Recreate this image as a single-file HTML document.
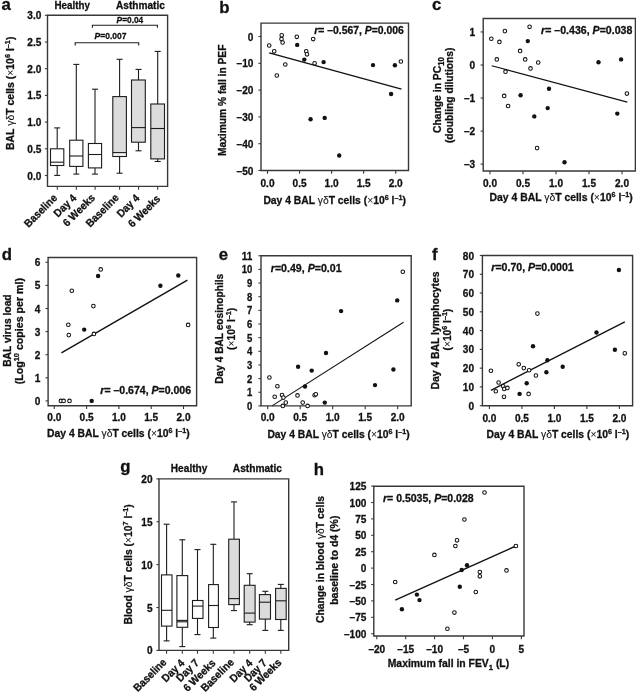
<!DOCTYPE html>
<html><head><meta charset="utf-8"><style>
html,body{margin:0;padding:0;background:#fff;}
svg{display:block;filter:grayscale(1) blur(0.3px);}
text{font-family:"Liberation Sans",sans-serif;font-weight:bold;fill:#111;stroke:#111;stroke-width:0.3px;}
</style></head><body>
<svg width="636" height="694" viewBox="0 0 636 694">
<rect width="636" height="694" fill="#fff"/>
<text x="1.60" y="10.20" font-size="16.63" text-anchor="start" textLength="9.34" lengthAdjust="spacingAndGlyphs">a</text>
<text x="54.50" y="8.60" font-size="10.91" text-anchor="start" textLength="35.50" lengthAdjust="spacingAndGlyphs">Healthy</text>
<text x="116.00" y="8.60" font-size="10.91" text-anchor="start" textLength="48.80" lengthAdjust="spacingAndGlyphs">Asthmatic</text>
<path d="M47.5,15.3H167.6V186.4H47.5Z" fill="none" stroke="#383838" stroke-width="1.4"/>
<line x1="44.90" y1="175.50" x2="47.50" y2="175.50" stroke="#383838" stroke-width="1.1"/>
<text x="41.40" y="179.50" font-size="10.91" text-anchor="end" textLength="14.04" lengthAdjust="spacingAndGlyphs">0.0</text>
<line x1="44.90" y1="148.80" x2="47.50" y2="148.80" stroke="#383838" stroke-width="1.1"/>
<text x="41.40" y="152.80" font-size="10.91" text-anchor="end" textLength="14.04" lengthAdjust="spacingAndGlyphs">0.5</text>
<line x1="44.90" y1="122.10" x2="47.50" y2="122.10" stroke="#383838" stroke-width="1.1"/>
<text x="41.40" y="126.10" font-size="10.91" text-anchor="end" textLength="14.04" lengthAdjust="spacingAndGlyphs">1.0</text>
<line x1="44.90" y1="95.40" x2="47.50" y2="95.40" stroke="#383838" stroke-width="1.1"/>
<text x="41.40" y="99.40" font-size="10.91" text-anchor="end" textLength="14.04" lengthAdjust="spacingAndGlyphs">1.5</text>
<line x1="44.90" y1="68.70" x2="47.50" y2="68.70" stroke="#383838" stroke-width="1.1"/>
<text x="41.40" y="72.70" font-size="10.91" text-anchor="end" textLength="14.04" lengthAdjust="spacingAndGlyphs">2.0</text>
<line x1="44.90" y1="42.00" x2="47.50" y2="42.00" stroke="#383838" stroke-width="1.1"/>
<text x="41.40" y="46.00" font-size="10.91" text-anchor="end" textLength="14.04" lengthAdjust="spacingAndGlyphs">2.5</text>
<line x1="44.90" y1="15.30" x2="47.50" y2="15.30" stroke="#383838" stroke-width="1.1"/>
<text x="41.40" y="19.30" font-size="10.91" text-anchor="end" textLength="14.04" lengthAdjust="spacingAndGlyphs">3.0</text>
<line x1="57.30" y1="186.40" x2="57.30" y2="189.70" stroke="#383838" stroke-width="1.1"/>
<line x1="76.30" y1="186.40" x2="76.30" y2="189.70" stroke="#383838" stroke-width="1.1"/>
<line x1="95.10" y1="186.40" x2="95.10" y2="189.70" stroke="#383838" stroke-width="1.1"/>
<line x1="119.60" y1="186.40" x2="119.60" y2="189.70" stroke="#383838" stroke-width="1.1"/>
<line x1="138.60" y1="186.40" x2="138.60" y2="189.70" stroke="#383838" stroke-width="1.1"/>
<line x1="157.70" y1="186.40" x2="157.70" y2="189.70" stroke="#383838" stroke-width="1.1"/>
<line x1="57.20" y1="127.90" x2="57.20" y2="148.80" stroke="#1c1c1c" stroke-width="1.1"/>
<line x1="57.20" y1="165.50" x2="57.20" y2="175.40" stroke="#1c1c1c" stroke-width="1.1"/>
<line x1="54.20" y1="127.90" x2="60.20" y2="127.90" stroke="#1c1c1c" stroke-width="1.1"/>
<line x1="54.20" y1="175.40" x2="60.20" y2="175.40" stroke="#1c1c1c" stroke-width="1.1"/>
<rect x="50.5" y="148.8" width="13.3" height="16.7" fill="#fff" stroke="#1c1c1c" stroke-width="1.1"/>
<line x1="50.50" y1="162.20" x2="63.80" y2="162.20" stroke="#1c1c1c" stroke-width="1.1"/>
<line x1="76.30" y1="64.40" x2="76.30" y2="140.20" stroke="#1c1c1c" stroke-width="1.1"/>
<line x1="76.30" y1="166.40" x2="76.30" y2="174.10" stroke="#1c1c1c" stroke-width="1.1"/>
<line x1="73.30" y1="64.40" x2="79.30" y2="64.40" stroke="#1c1c1c" stroke-width="1.1"/>
<line x1="73.30" y1="174.10" x2="79.30" y2="174.10" stroke="#1c1c1c" stroke-width="1.1"/>
<rect x="69.7" y="140.2" width="13.2" height="26.2" fill="#fff" stroke="#1c1c1c" stroke-width="1.1"/>
<line x1="69.70" y1="156.00" x2="82.90" y2="156.00" stroke="#1c1c1c" stroke-width="1.1"/>
<line x1="95.00" y1="89.20" x2="95.00" y2="143.50" stroke="#1c1c1c" stroke-width="1.1"/>
<line x1="95.00" y1="167.90" x2="95.00" y2="174.10" stroke="#1c1c1c" stroke-width="1.1"/>
<line x1="92.00" y1="89.20" x2="98.00" y2="89.20" stroke="#1c1c1c" stroke-width="1.1"/>
<line x1="92.00" y1="174.10" x2="98.00" y2="174.10" stroke="#1c1c1c" stroke-width="1.1"/>
<rect x="88.4" y="143.5" width="13.2" height="24.4" fill="#fff" stroke="#1c1c1c" stroke-width="1.1"/>
<line x1="88.40" y1="154.50" x2="101.60" y2="154.50" stroke="#1c1c1c" stroke-width="1.1"/>
<line x1="119.60" y1="59.30" x2="119.60" y2="96.60" stroke="#1c1c1c" stroke-width="1.1"/>
<line x1="119.60" y1="156.50" x2="119.60" y2="173.20" stroke="#1c1c1c" stroke-width="1.1"/>
<line x1="116.60" y1="59.30" x2="122.60" y2="59.30" stroke="#1c1c1c" stroke-width="1.1"/>
<line x1="116.60" y1="173.20" x2="122.60" y2="173.20" stroke="#1c1c1c" stroke-width="1.1"/>
<rect x="112.8" y="96.6" width="13.6" height="59.9" fill="#dcdcdc" stroke="#1c1c1c" stroke-width="1.1"/>
<line x1="112.80" y1="152.60" x2="126.40" y2="152.60" stroke="#1c1c1c" stroke-width="1.1"/>
<rect x="113.5" y="153.6" width="12.2" height="2.1" fill="#f4f4f4"/>
<line x1="138.50" y1="69.40" x2="138.50" y2="80.00" stroke="#1c1c1c" stroke-width="1.1"/>
<line x1="138.50" y1="142.20" x2="138.50" y2="150.80" stroke="#1c1c1c" stroke-width="1.1"/>
<line x1="135.50" y1="69.40" x2="141.50" y2="69.40" stroke="#1c1c1c" stroke-width="1.1"/>
<line x1="135.50" y1="150.80" x2="141.50" y2="150.80" stroke="#1c1c1c" stroke-width="1.1"/>
<rect x="131.5" y="80.0" width="13.8" height="62.2" fill="#dcdcdc" stroke="#1c1c1c" stroke-width="1.1"/>
<line x1="131.50" y1="127.60" x2="145.30" y2="127.60" stroke="#1c1c1c" stroke-width="1.1"/>
<line x1="157.70" y1="51.40" x2="157.70" y2="104.00" stroke="#1c1c1c" stroke-width="1.1"/>
<line x1="157.70" y1="158.90" x2="157.70" y2="161.50" stroke="#1c1c1c" stroke-width="1.1"/>
<line x1="154.70" y1="51.40" x2="160.70" y2="51.40" stroke="#1c1c1c" stroke-width="1.1"/>
<line x1="154.70" y1="161.50" x2="160.70" y2="161.50" stroke="#1c1c1c" stroke-width="1.1"/>
<rect x="150.8" y="104.0" width="13.7" height="54.9" fill="#dcdcdc" stroke="#1c1c1c" stroke-width="1.1"/>
<line x1="150.80" y1="128.50" x2="164.50" y2="128.50" stroke="#1c1c1c" stroke-width="1.1"/>
<path d="M92.4,27.8V25.3H157.4V27.8" fill="none" stroke="#1c1c1c" stroke-width="1.1"/>
<path d="M75.2,45.6V42.7H138.7V45.6" fill="none" stroke="#1c1c1c" stroke-width="1.1"/>
<text x="116.60" y="22.60" font-size="9.29" text-anchor="start" textLength="26.60" lengthAdjust="spacingAndGlyphs"><tspan font-style="italic">P</tspan>=0.04</text>
<text x="94.60" y="38.60" font-size="9.29" text-anchor="start" textLength="31.80" lengthAdjust="spacingAndGlyphs"><tspan font-style="italic">P</tspan>=0.007</text>
<text transform="translate(57.90,198.60) rotate(-45)" x="0" y="0" font-size="10.91" text-anchor="end" textLength="41.54" lengthAdjust="spacingAndGlyphs">Baseline</text>
<text transform="translate(77.10,198.66) rotate(-45)" x="0" y="0" font-size="10.91" text-anchor="end" textLength="26.95" lengthAdjust="spacingAndGlyphs">Day 4</text>
<text transform="translate(95.70,198.60) rotate(-45)" x="0" y="0" font-size="10.91" text-anchor="end" textLength="40.42" lengthAdjust="spacingAndGlyphs">6 Weeks</text>
<text transform="translate(119.50,198.39) rotate(-45)" x="0" y="0" font-size="10.91" text-anchor="end" textLength="41.54" lengthAdjust="spacingAndGlyphs">Baseline</text>
<text transform="translate(140.20,198.90) rotate(-45)" x="0" y="0" font-size="10.91" text-anchor="end" textLength="26.95" lengthAdjust="spacingAndGlyphs">Day 4</text>
<text transform="translate(161.10,199.44) rotate(-45)" x="0" y="0" font-size="10.91" text-anchor="end" textLength="40.42" lengthAdjust="spacingAndGlyphs">6 Weeks</text>
<text transform="translate(14.00,93.30) rotate(-90)" x="0" y="0" font-size="10.91" text-anchor="middle" textLength="113.40" lengthAdjust="spacingAndGlyphs">BAL <tspan font-weight="normal" stroke-width="0.1">γδ</tspan>T cells (<tspan font-weight="normal" stroke-width="0">×</tspan>10<tspan font-size="7.6" dy="-4.0">6</tspan><tspan dy="4.0"> l</tspan><tspan font-size="7.6" dy="-4.0">–1</tspan><tspan dy="4.0">)</tspan></text>
<text x="219.30" y="13.10" font-size="16.63" text-anchor="start" textLength="10.26" lengthAdjust="spacingAndGlyphs">b</text>
<path d="M261.0,23.1H408.5V170.5H261.0Z" fill="none" stroke="#383838" stroke-width="1.4"/>
<line x1="258.40" y1="36.50" x2="261.00" y2="36.50" stroke="#383838" stroke-width="1.1"/>
<text x="253.40" y="40.50" font-size="10.91" text-anchor="end" textLength="5.62" lengthAdjust="spacingAndGlyphs">0</text>
<line x1="258.40" y1="63.30" x2="261.00" y2="63.30" stroke="#383838" stroke-width="1.1"/>
<text x="253.40" y="67.30" font-size="10.91" text-anchor="end" textLength="16.85" lengthAdjust="spacingAndGlyphs">–10</text>
<line x1="258.40" y1="90.10" x2="261.00" y2="90.10" stroke="#383838" stroke-width="1.1"/>
<text x="253.40" y="94.10" font-size="10.91" text-anchor="end" textLength="16.85" lengthAdjust="spacingAndGlyphs">–20</text>
<line x1="258.40" y1="116.90" x2="261.00" y2="116.90" stroke="#383838" stroke-width="1.1"/>
<text x="253.40" y="120.90" font-size="10.91" text-anchor="end" textLength="16.85" lengthAdjust="spacingAndGlyphs">–30</text>
<line x1="258.40" y1="143.70" x2="261.00" y2="143.70" stroke="#383838" stroke-width="1.1"/>
<text x="253.40" y="147.70" font-size="10.91" text-anchor="end" textLength="16.85" lengthAdjust="spacingAndGlyphs">–40</text>
<line x1="258.40" y1="170.50" x2="261.00" y2="170.50" stroke="#383838" stroke-width="1.1"/>
<text x="253.40" y="174.50" font-size="10.91" text-anchor="end" textLength="16.85" lengthAdjust="spacingAndGlyphs">–50</text>
<line x1="267.50" y1="170.50" x2="267.50" y2="173.80" stroke="#383838" stroke-width="1.1"/>
<text x="267.50" y="186.50" font-size="10.91" text-anchor="middle" textLength="14.04" lengthAdjust="spacingAndGlyphs">0.0</text>
<line x1="299.55" y1="170.50" x2="299.55" y2="173.80" stroke="#383838" stroke-width="1.1"/>
<text x="299.55" y="186.50" font-size="10.91" text-anchor="middle" textLength="14.04" lengthAdjust="spacingAndGlyphs">0.5</text>
<line x1="331.60" y1="170.50" x2="331.60" y2="173.80" stroke="#383838" stroke-width="1.1"/>
<text x="331.60" y="186.50" font-size="10.91" text-anchor="middle" textLength="14.04" lengthAdjust="spacingAndGlyphs">1.0</text>
<line x1="363.65" y1="170.50" x2="363.65" y2="173.80" stroke="#383838" stroke-width="1.1"/>
<text x="363.65" y="186.50" font-size="10.91" text-anchor="middle" textLength="14.04" lengthAdjust="spacingAndGlyphs">1.5</text>
<line x1="395.70" y1="170.50" x2="395.70" y2="173.80" stroke="#383838" stroke-width="1.1"/>
<text x="395.70" y="186.50" font-size="10.91" text-anchor="middle" textLength="14.04" lengthAdjust="spacingAndGlyphs">2.0</text>
<text x="263.40" y="203.50" font-size="10.91" text-anchor="start" textLength="142.50" lengthAdjust="spacingAndGlyphs">Day 4 BAL <tspan font-weight="normal" stroke-width="0.1">γδ</tspan>T cells (<tspan font-weight="normal" stroke-width="0">×</tspan>10<tspan font-size="7.6" dy="-4.0">6</tspan><tspan dy="4.0"> l</tspan><tspan font-size="7.6" dy="-4.0">–1</tspan><tspan dy="4.0">)</tspan></text>
<text transform="translate(225.50,100.30) rotate(-90)" x="0" y="0" font-size="10.91" text-anchor="middle" textLength="111.50" lengthAdjust="spacingAndGlyphs">Maximum % fall in PEF</text>
<text x="314.20" y="33.60" font-size="10.91" text-anchor="start" textLength="89.60" lengthAdjust="spacingAndGlyphs"><tspan font-style="italic">r</tspan>= –0.567, <tspan font-style="italic">P</tspan>=0.006</text>
<line x1="269.20" y1="52.80" x2="401.50" y2="89.20" stroke="#111" stroke-width="1.4"/>
<circle cx="269.2" cy="45.5" r="1.8" fill="#fff" stroke="#111" stroke-width="1.05"/>
<circle cx="274.2" cy="51.3" r="1.8" fill="#fff" stroke="#111" stroke-width="1.05"/>
<circle cx="281.7" cy="35.3" r="1.8" fill="#fff" stroke="#111" stroke-width="1.05"/>
<circle cx="281.5" cy="39.1" r="1.8" fill="#fff" stroke="#111" stroke-width="1.05"/>
<circle cx="282.6" cy="42.5" r="1.8" fill="#fff" stroke="#111" stroke-width="1.05"/>
<circle cx="296.8" cy="36.8" r="1.8" fill="#fff" stroke="#111" stroke-width="1.05"/>
<circle cx="313.2" cy="39.1" r="1.8" fill="#fff" stroke="#111" stroke-width="1.05"/>
<circle cx="306.2" cy="51.3" r="1.8" fill="#fff" stroke="#111" stroke-width="1.05"/>
<circle cx="307" cy="54.3" r="1.8" fill="#fff" stroke="#111" stroke-width="1.05"/>
<circle cx="314.6" cy="63.3" r="1.8" fill="#fff" stroke="#111" stroke-width="1.05"/>
<circle cx="285.3" cy="64.5" r="1.8" fill="#fff" stroke="#111" stroke-width="1.05"/>
<circle cx="276.8" cy="75.5" r="1.8" fill="#fff" stroke="#111" stroke-width="1.05"/>
<circle cx="400.9" cy="61.5" r="1.8" fill="#fff" stroke="#111" stroke-width="1.05"/>
<circle cx="297.2" cy="44.9" r="2.2" fill="#111"/>
<circle cx="304.3" cy="59.6" r="2.2" fill="#111"/>
<circle cx="323.6" cy="62.1" r="2.2" fill="#111"/>
<circle cx="373" cy="65.1" r="2.2" fill="#111"/>
<circle cx="394.9" cy="65.3" r="2.2" fill="#111"/>
<circle cx="391.1" cy="94" r="2.2" fill="#111"/>
<circle cx="310.6" cy="119.2" r="2.2" fill="#111"/>
<circle cx="324.7" cy="117.9" r="2.2" fill="#111"/>
<circle cx="339.2" cy="155.5" r="2.2" fill="#111"/>
<text x="432.10" y="9.90" font-size="16.63" text-anchor="start" textLength="9.34" lengthAdjust="spacingAndGlyphs">c</text>
<path d="M483.2,18.5H635.4V171.0H483.2Z" fill="none" stroke="#383838" stroke-width="1.4"/>
<line x1="480.60" y1="31.95" x2="483.20" y2="31.95" stroke="#383838" stroke-width="1.1"/>
<text x="475.20" y="35.95" font-size="10.91" text-anchor="end" textLength="5.62" lengthAdjust="spacingAndGlyphs">1</text>
<line x1="480.60" y1="65.00" x2="483.20" y2="65.00" stroke="#383838" stroke-width="1.1"/>
<text x="475.20" y="69.00" font-size="10.91" text-anchor="end" textLength="5.62" lengthAdjust="spacingAndGlyphs">0</text>
<line x1="480.60" y1="98.05" x2="483.20" y2="98.05" stroke="#383838" stroke-width="1.1"/>
<text x="475.20" y="102.05" font-size="10.91" text-anchor="end" textLength="11.23" lengthAdjust="spacingAndGlyphs">–1</text>
<line x1="480.60" y1="131.10" x2="483.20" y2="131.10" stroke="#383838" stroke-width="1.1"/>
<text x="475.20" y="135.10" font-size="10.91" text-anchor="end" textLength="11.23" lengthAdjust="spacingAndGlyphs">–2</text>
<line x1="480.60" y1="164.15" x2="483.20" y2="164.15" stroke="#383838" stroke-width="1.1"/>
<text x="475.20" y="168.15" font-size="10.91" text-anchor="end" textLength="11.23" lengthAdjust="spacingAndGlyphs">–3</text>
<line x1="490.00" y1="171.00" x2="490.00" y2="174.30" stroke="#383838" stroke-width="1.1"/>
<text x="490.00" y="187.30" font-size="10.91" text-anchor="middle" textLength="14.04" lengthAdjust="spacingAndGlyphs">0.0</text>
<line x1="523.00" y1="171.00" x2="523.00" y2="174.30" stroke="#383838" stroke-width="1.1"/>
<text x="523.00" y="187.30" font-size="10.91" text-anchor="middle" textLength="14.04" lengthAdjust="spacingAndGlyphs">0.5</text>
<line x1="556.00" y1="171.00" x2="556.00" y2="174.30" stroke="#383838" stroke-width="1.1"/>
<text x="556.00" y="187.30" font-size="10.91" text-anchor="middle" textLength="14.04" lengthAdjust="spacingAndGlyphs">1.0</text>
<line x1="589.00" y1="171.00" x2="589.00" y2="174.30" stroke="#383838" stroke-width="1.1"/>
<text x="589.00" y="187.30" font-size="10.91" text-anchor="middle" textLength="14.04" lengthAdjust="spacingAndGlyphs">1.5</text>
<line x1="622.00" y1="171.00" x2="622.00" y2="174.30" stroke="#383838" stroke-width="1.1"/>
<text x="622.00" y="187.30" font-size="10.91" text-anchor="middle" textLength="14.04" lengthAdjust="spacingAndGlyphs">2.0</text>
<text x="489.60" y="200.90" font-size="10.91" text-anchor="start" textLength="143.20" lengthAdjust="spacingAndGlyphs">Day 4 BAL <tspan font-weight="normal" stroke-width="0.1">γδ</tspan>T cells (<tspan font-weight="normal" stroke-width="0">×</tspan>10<tspan font-size="7.6" dy="-4.0">6</tspan><tspan dy="4.0"> l</tspan><tspan font-size="7.6" dy="-4.0">–1</tspan><tspan dy="4.0">)</tspan></text>
<text transform="translate(441.20,95.10) rotate(-90)" x="0" y="0" font-size="10.91" text-anchor="middle" textLength="76.00" lengthAdjust="spacingAndGlyphs">Change in PC<tspan font-size="8.2" dy="2.8">10</tspan></text>
<text transform="translate(453.00,95.30) rotate(-90)" x="0" y="0" font-size="10.91" text-anchor="middle" textLength="95.50" lengthAdjust="spacingAndGlyphs">(doubling dilutions)</text>
<text x="541.10" y="34.30" font-size="10.91" text-anchor="start" textLength="91.20" lengthAdjust="spacingAndGlyphs"><tspan font-style="italic">r</tspan>= –0.436, <tspan font-style="italic">P</tspan>=0.038</text>
<line x1="491.70" y1="65.70" x2="627.30" y2="102.10" stroke="#111" stroke-width="1.1"/>
<circle cx="491.3" cy="38.7" r="1.8" fill="#fff" stroke="#111" stroke-width="1.05"/>
<circle cx="499.4" cy="41.9" r="1.8" fill="#fff" stroke="#111" stroke-width="1.05"/>
<circle cx="504.9" cy="31.1" r="1.8" fill="#fff" stroke="#111" stroke-width="1.05"/>
<circle cx="529.6" cy="26.8" r="1.8" fill="#fff" stroke="#111" stroke-width="1.05"/>
<circle cx="520.1" cy="50.9" r="1.8" fill="#fff" stroke="#111" stroke-width="1.05"/>
<circle cx="525.2" cy="59.4" r="1.8" fill="#fff" stroke="#111" stroke-width="1.05"/>
<circle cx="496.8" cy="59.4" r="1.8" fill="#fff" stroke="#111" stroke-width="1.05"/>
<circle cx="538.2" cy="62.5" r="1.8" fill="#fff" stroke="#111" stroke-width="1.05"/>
<circle cx="530.5" cy="68.4" r="1.8" fill="#fff" stroke="#111" stroke-width="1.05"/>
<circle cx="505.5" cy="71.7" r="1.8" fill="#fff" stroke="#111" stroke-width="1.05"/>
<circle cx="504.2" cy="95.9" r="1.8" fill="#fff" stroke="#111" stroke-width="1.05"/>
<circle cx="508.1" cy="106" r="1.8" fill="#fff" stroke="#111" stroke-width="1.05"/>
<circle cx="537.1" cy="148.1" r="1.8" fill="#fff" stroke="#111" stroke-width="1.05"/>
<circle cx="626.9" cy="93.6" r="1.8" fill="#fff" stroke="#111" stroke-width="1.05"/>
<circle cx="527.8" cy="41.1" r="2.2" fill="#111"/>
<circle cx="520.6" cy="95.3" r="2.2" fill="#111"/>
<circle cx="549" cy="88.7" r="2.2" fill="#111"/>
<circle cx="534.3" cy="116.4" r="2.2" fill="#111"/>
<circle cx="547.7" cy="108.1" r="2.2" fill="#111"/>
<circle cx="564.5" cy="162.3" r="2.2" fill="#111"/>
<circle cx="598.5" cy="62.3" r="2.2" fill="#111"/>
<circle cx="621.1" cy="59.4" r="2.2" fill="#111"/>
<circle cx="617.3" cy="113.6" r="2.2" fill="#111"/>
<text x="1.70" y="259.60" font-size="16.63" text-anchor="start" textLength="10.26" lengthAdjust="spacingAndGlyphs">d</text>
<path d="M48.1,257.5H196.6V405.8H48.1Z" fill="none" stroke="#383838" stroke-width="1.4"/>
<line x1="45.50" y1="400.90" x2="48.10" y2="400.90" stroke="#383838" stroke-width="1.1"/>
<text x="40.40" y="404.90" font-size="10.91" text-anchor="end" textLength="5.62" lengthAdjust="spacingAndGlyphs">0</text>
<line x1="45.50" y1="377.80" x2="48.10" y2="377.80" stroke="#383838" stroke-width="1.1"/>
<text x="40.40" y="381.80" font-size="10.91" text-anchor="end" textLength="5.62" lengthAdjust="spacingAndGlyphs">1</text>
<line x1="45.50" y1="354.70" x2="48.10" y2="354.70" stroke="#383838" stroke-width="1.1"/>
<text x="40.40" y="358.70" font-size="10.91" text-anchor="end" textLength="5.62" lengthAdjust="spacingAndGlyphs">2</text>
<line x1="45.50" y1="331.60" x2="48.10" y2="331.60" stroke="#383838" stroke-width="1.1"/>
<text x="40.40" y="335.60" font-size="10.91" text-anchor="end" textLength="5.62" lengthAdjust="spacingAndGlyphs">3</text>
<line x1="45.50" y1="308.50" x2="48.10" y2="308.50" stroke="#383838" stroke-width="1.1"/>
<text x="40.40" y="312.50" font-size="10.91" text-anchor="end" textLength="5.62" lengthAdjust="spacingAndGlyphs">4</text>
<line x1="45.50" y1="285.40" x2="48.10" y2="285.40" stroke="#383838" stroke-width="1.1"/>
<text x="40.40" y="289.40" font-size="10.91" text-anchor="end" textLength="5.62" lengthAdjust="spacingAndGlyphs">5</text>
<line x1="45.50" y1="262.30" x2="48.10" y2="262.30" stroke="#383838" stroke-width="1.1"/>
<text x="40.40" y="266.30" font-size="10.91" text-anchor="end" textLength="5.62" lengthAdjust="spacingAndGlyphs">6</text>
<line x1="54.30" y1="405.80" x2="54.30" y2="409.10" stroke="#383838" stroke-width="1.1"/>
<text x="54.30" y="420.80" font-size="10.91" text-anchor="middle" textLength="14.04" lengthAdjust="spacingAndGlyphs">0.0</text>
<line x1="86.60" y1="405.80" x2="86.60" y2="409.10" stroke="#383838" stroke-width="1.1"/>
<text x="86.60" y="420.80" font-size="10.91" text-anchor="middle" textLength="14.04" lengthAdjust="spacingAndGlyphs">0.5</text>
<line x1="118.90" y1="405.80" x2="118.90" y2="409.10" stroke="#383838" stroke-width="1.1"/>
<text x="118.90" y="420.80" font-size="10.91" text-anchor="middle" textLength="14.04" lengthAdjust="spacingAndGlyphs">1.0</text>
<line x1="151.20" y1="405.80" x2="151.20" y2="409.10" stroke="#383838" stroke-width="1.1"/>
<text x="151.20" y="420.80" font-size="10.91" text-anchor="middle" textLength="14.04" lengthAdjust="spacingAndGlyphs">1.5</text>
<line x1="183.50" y1="405.80" x2="183.50" y2="409.10" stroke="#383838" stroke-width="1.1"/>
<text x="183.50" y="420.80" font-size="10.91" text-anchor="middle" textLength="14.04" lengthAdjust="spacingAndGlyphs">2.0</text>
<text x="47.10" y="436.60" font-size="10.91" text-anchor="start" textLength="142.60" lengthAdjust="spacingAndGlyphs">Day 4 BAL <tspan font-weight="normal" stroke-width="0.1">γδ</tspan>T cells (<tspan font-weight="normal" stroke-width="0">×</tspan>10<tspan font-size="7.6" dy="-4.0">6</tspan><tspan dy="4.0"> l</tspan><tspan font-size="7.6" dy="-4.0">–1</tspan><tspan dy="4.0">)</tspan></text>
<text transform="translate(10.70,330.60) rotate(-90)" x="0" y="0" font-size="10.91" text-anchor="middle" textLength="72.50" lengthAdjust="spacingAndGlyphs">BAL virus load</text>
<text transform="translate(23.20,331.20) rotate(-90)" x="0" y="0" font-size="10.91" text-anchor="middle" textLength="106.30" lengthAdjust="spacingAndGlyphs">(Log<tspan font-size="7.6" dy="-4.0">10</tspan><tspan dy="4.0"> copies per ml)</tspan></text>
<text x="100.30" y="394.20" font-size="10.91" text-anchor="start" textLength="90.80" lengthAdjust="spacingAndGlyphs"><tspan font-style="italic">r</tspan>= –0.674, <tspan font-style="italic">P</tspan>=0.006</text>
<line x1="61.40" y1="352.90" x2="187.40" y2="280.20" stroke="#111" stroke-width="1.4"/>
<circle cx="71.8" cy="290.7" r="1.8" fill="#fff" stroke="#111" stroke-width="1.05"/>
<circle cx="100.7" cy="269.4" r="1.8" fill="#fff" stroke="#111" stroke-width="1.05"/>
<circle cx="93.4" cy="306.1" r="1.8" fill="#fff" stroke="#111" stroke-width="1.05"/>
<circle cx="68.3" cy="324.7" r="1.8" fill="#fff" stroke="#111" stroke-width="1.05"/>
<circle cx="68.8" cy="335.1" r="1.8" fill="#fff" stroke="#111" stroke-width="1.05"/>
<circle cx="93.9" cy="333.9" r="1.8" fill="#fff" stroke="#111" stroke-width="1.05"/>
<circle cx="188.1" cy="324.9" r="1.8" fill="#fff" stroke="#111" stroke-width="1.05"/>
<circle cx="60.9" cy="400.9" r="1.8" fill="#fff" stroke="#111" stroke-width="1.05"/>
<circle cx="63.6" cy="400.9" r="1.8" fill="#fff" stroke="#111" stroke-width="1.05"/>
<circle cx="69.5" cy="400.9" r="1.8" fill="#fff" stroke="#111" stroke-width="1.05"/>
<circle cx="98.1" cy="276" r="2.2" fill="#111"/>
<circle cx="84.2" cy="329.6" r="2.2" fill="#111"/>
<circle cx="160.4" cy="285.8" r="2.2" fill="#111"/>
<circle cx="178.3" cy="275.5" r="2.2" fill="#111"/>
<circle cx="91.7" cy="400.9" r="2.2" fill="#111"/>
<text x="218.70" y="259.80" font-size="16.63" text-anchor="start" textLength="9.34" lengthAdjust="spacingAndGlyphs">e</text>
<path d="M261.0,255.7H411.2V405.9H261.0Z" fill="none" stroke="#383838" stroke-width="1.4"/>
<line x1="258.40" y1="405.90" x2="261.00" y2="405.90" stroke="#383838" stroke-width="1.1"/>
<text x="252.20" y="409.90" font-size="10.26" text-anchor="end" textLength="5.28" lengthAdjust="spacingAndGlyphs">0</text>
<line x1="258.40" y1="392.25" x2="261.00" y2="392.25" stroke="#383838" stroke-width="1.1"/>
<text x="252.20" y="396.25" font-size="10.26" text-anchor="end" textLength="5.28" lengthAdjust="spacingAndGlyphs">1</text>
<line x1="258.40" y1="378.60" x2="261.00" y2="378.60" stroke="#383838" stroke-width="1.1"/>
<text x="252.20" y="382.60" font-size="10.26" text-anchor="end" textLength="5.28" lengthAdjust="spacingAndGlyphs">2</text>
<line x1="258.40" y1="364.95" x2="261.00" y2="364.95" stroke="#383838" stroke-width="1.1"/>
<text x="252.20" y="368.95" font-size="10.26" text-anchor="end" textLength="5.28" lengthAdjust="spacingAndGlyphs">3</text>
<line x1="258.40" y1="351.30" x2="261.00" y2="351.30" stroke="#383838" stroke-width="1.1"/>
<text x="252.20" y="355.30" font-size="10.26" text-anchor="end" textLength="5.28" lengthAdjust="spacingAndGlyphs">4</text>
<line x1="258.40" y1="337.65" x2="261.00" y2="337.65" stroke="#383838" stroke-width="1.1"/>
<text x="252.20" y="341.65" font-size="10.26" text-anchor="end" textLength="5.28" lengthAdjust="spacingAndGlyphs">5</text>
<line x1="258.40" y1="324.00" x2="261.00" y2="324.00" stroke="#383838" stroke-width="1.1"/>
<text x="252.20" y="328.00" font-size="10.26" text-anchor="end" textLength="5.28" lengthAdjust="spacingAndGlyphs">6</text>
<line x1="258.40" y1="310.35" x2="261.00" y2="310.35" stroke="#383838" stroke-width="1.1"/>
<text x="252.20" y="314.35" font-size="10.26" text-anchor="end" textLength="5.28" lengthAdjust="spacingAndGlyphs">7</text>
<line x1="258.40" y1="296.70" x2="261.00" y2="296.70" stroke="#383838" stroke-width="1.1"/>
<text x="252.20" y="300.70" font-size="10.26" text-anchor="end" textLength="5.28" lengthAdjust="spacingAndGlyphs">8</text>
<line x1="258.40" y1="283.05" x2="261.00" y2="283.05" stroke="#383838" stroke-width="1.1"/>
<text x="252.20" y="287.05" font-size="10.26" text-anchor="end" textLength="5.28" lengthAdjust="spacingAndGlyphs">9</text>
<line x1="258.40" y1="269.40" x2="261.00" y2="269.40" stroke="#383838" stroke-width="1.1"/>
<text x="252.20" y="273.40" font-size="10.26" text-anchor="end" textLength="10.57" lengthAdjust="spacingAndGlyphs">10</text>
<line x1="258.40" y1="255.75" x2="261.00" y2="255.75" stroke="#383838" stroke-width="1.1"/>
<text x="252.20" y="259.75" font-size="10.26" text-anchor="end" textLength="10.57" lengthAdjust="spacingAndGlyphs">11</text>
<line x1="267.70" y1="405.90" x2="267.70" y2="409.20" stroke="#383838" stroke-width="1.1"/>
<text x="267.70" y="421.00" font-size="10.91" text-anchor="middle" textLength="14.04" lengthAdjust="spacingAndGlyphs">0.0</text>
<line x1="300.20" y1="405.90" x2="300.20" y2="409.20" stroke="#383838" stroke-width="1.1"/>
<text x="300.20" y="421.00" font-size="10.91" text-anchor="middle" textLength="14.04" lengthAdjust="spacingAndGlyphs">0.5</text>
<line x1="332.70" y1="405.90" x2="332.70" y2="409.20" stroke="#383838" stroke-width="1.1"/>
<text x="332.70" y="421.00" font-size="10.91" text-anchor="middle" textLength="14.04" lengthAdjust="spacingAndGlyphs">1.0</text>
<line x1="365.20" y1="405.90" x2="365.20" y2="409.20" stroke="#383838" stroke-width="1.1"/>
<text x="365.20" y="421.00" font-size="10.91" text-anchor="middle" textLength="14.04" lengthAdjust="spacingAndGlyphs">1.5</text>
<line x1="397.70" y1="405.90" x2="397.70" y2="409.20" stroke="#383838" stroke-width="1.1"/>
<text x="397.70" y="421.00" font-size="10.91" text-anchor="middle" textLength="14.04" lengthAdjust="spacingAndGlyphs">2.0</text>
<text x="267.40" y="437.80" font-size="10.91" text-anchor="start" textLength="142.20" lengthAdjust="spacingAndGlyphs">Day 4 BAL <tspan font-weight="normal" stroke-width="0.1">γδ</tspan>T cells (<tspan font-weight="normal" stroke-width="0">×</tspan>10<tspan font-size="7.6" dy="-4.0">6</tspan><tspan dy="4.0"> l</tspan><tspan font-size="7.6" dy="-4.0">–1</tspan><tspan dy="4.0">)</tspan></text>
<text transform="translate(222.70,328.80) rotate(-90)" x="0" y="0" font-size="10.91" text-anchor="middle" textLength="110.00" lengthAdjust="spacingAndGlyphs">Day 4 BAL eosinophils</text>
<text transform="translate(234.60,328.90) rotate(-90)" x="0" y="0" font-size="10.91" text-anchor="middle" textLength="42.30" lengthAdjust="spacingAndGlyphs">(<tspan font-weight="normal" stroke-width="0">×</tspan>10<tspan font-size="7.6" dy="-4.0">6</tspan><tspan dy="4.0"> l</tspan><tspan font-size="7.6" dy="-4.0">–1</tspan><tspan dy="4.0">)</tspan></text>
<text x="270.80" y="271.70" font-size="10.91" text-anchor="start" textLength="70.80" lengthAdjust="spacingAndGlyphs"><tspan font-style="italic">r</tspan>=0.49, <tspan font-style="italic">P</tspan>=0.01</text>
<line x1="272.00" y1="405.90" x2="403.50" y2="322.30" stroke="#111" stroke-width="1.1"/>
<circle cx="269.4" cy="377.5" r="1.8" fill="#fff" stroke="#111" stroke-width="1.05"/>
<circle cx="277.4" cy="386.2" r="1.8" fill="#fff" stroke="#111" stroke-width="1.05"/>
<circle cx="274.7" cy="396.7" r="1.8" fill="#fff" stroke="#111" stroke-width="1.05"/>
<circle cx="282" cy="395" r="1.8" fill="#fff" stroke="#111" stroke-width="1.05"/>
<circle cx="283.4" cy="397.6" r="1.8" fill="#fff" stroke="#111" stroke-width="1.05"/>
<circle cx="285.8" cy="402.6" r="1.8" fill="#fff" stroke="#111" stroke-width="1.05"/>
<circle cx="282.8" cy="405.9" r="1.8" fill="#fff" stroke="#111" stroke-width="1.05"/>
<circle cx="297.5" cy="395.4" r="1.8" fill="#fff" stroke="#111" stroke-width="1.05"/>
<circle cx="302.7" cy="402.6" r="1.8" fill="#fff" stroke="#111" stroke-width="1.05"/>
<circle cx="307.6" cy="405.9" r="1.8" fill="#fff" stroke="#111" stroke-width="1.05"/>
<circle cx="314.6" cy="395.2" r="1.8" fill="#fff" stroke="#111" stroke-width="1.05"/>
<circle cx="315.8" cy="394.2" r="1.8" fill="#fff" stroke="#111" stroke-width="1.05"/>
<circle cx="402.8" cy="271.7" r="1.8" fill="#fff" stroke="#111" stroke-width="1.05"/>
<circle cx="298.1" cy="366.8" r="2.2" fill="#111"/>
<circle cx="311.7" cy="370.6" r="2.2" fill="#111"/>
<circle cx="326" cy="353" r="2.2" fill="#111"/>
<circle cx="305" cy="386.5" r="2.2" fill="#111"/>
<circle cx="324.8" cy="402.6" r="2.2" fill="#111"/>
<circle cx="341.1" cy="311.1" r="2.2" fill="#111"/>
<circle cx="397.2" cy="300.4" r="2.2" fill="#111"/>
<circle cx="393.4" cy="369.5" r="2.2" fill="#111"/>
<circle cx="375" cy="385.1" r="2.2" fill="#111"/>
<text x="432.00" y="259.80" font-size="16.63" text-anchor="start" textLength="5.59" lengthAdjust="spacingAndGlyphs">f</text>
<path d="M482.4,255.5H632.6V405.7H482.4Z" fill="none" stroke="#383838" stroke-width="1.4"/>
<line x1="479.80" y1="405.70" x2="482.40" y2="405.70" stroke="#383838" stroke-width="1.1"/>
<text x="474.10" y="409.70" font-size="10.91" text-anchor="end" textLength="5.62" lengthAdjust="spacingAndGlyphs">0</text>
<line x1="479.80" y1="386.93" x2="482.40" y2="386.93" stroke="#383838" stroke-width="1.1"/>
<text x="474.10" y="390.93" font-size="10.91" text-anchor="end" textLength="11.23" lengthAdjust="spacingAndGlyphs">10</text>
<line x1="479.80" y1="368.15" x2="482.40" y2="368.15" stroke="#383838" stroke-width="1.1"/>
<text x="474.10" y="372.15" font-size="10.91" text-anchor="end" textLength="11.23" lengthAdjust="spacingAndGlyphs">20</text>
<line x1="479.80" y1="349.38" x2="482.40" y2="349.38" stroke="#383838" stroke-width="1.1"/>
<text x="474.10" y="353.38" font-size="10.91" text-anchor="end" textLength="11.23" lengthAdjust="spacingAndGlyphs">30</text>
<line x1="479.80" y1="330.60" x2="482.40" y2="330.60" stroke="#383838" stroke-width="1.1"/>
<text x="474.10" y="334.60" font-size="10.91" text-anchor="end" textLength="11.23" lengthAdjust="spacingAndGlyphs">40</text>
<line x1="479.80" y1="311.82" x2="482.40" y2="311.82" stroke="#383838" stroke-width="1.1"/>
<text x="474.10" y="315.82" font-size="10.91" text-anchor="end" textLength="11.23" lengthAdjust="spacingAndGlyphs">50</text>
<line x1="479.80" y1="293.05" x2="482.40" y2="293.05" stroke="#383838" stroke-width="1.1"/>
<text x="474.10" y="297.05" font-size="10.91" text-anchor="end" textLength="11.23" lengthAdjust="spacingAndGlyphs">60</text>
<line x1="479.80" y1="274.27" x2="482.40" y2="274.27" stroke="#383838" stroke-width="1.1"/>
<text x="474.10" y="278.27" font-size="10.91" text-anchor="end" textLength="11.23" lengthAdjust="spacingAndGlyphs">70</text>
<line x1="479.80" y1="255.50" x2="482.40" y2="255.50" stroke="#383838" stroke-width="1.1"/>
<text x="474.10" y="259.50" font-size="10.91" text-anchor="end" textLength="11.23" lengthAdjust="spacingAndGlyphs">80</text>
<line x1="489.40" y1="405.70" x2="489.40" y2="409.00" stroke="#383838" stroke-width="1.1"/>
<text x="489.40" y="422.00" font-size="10.91" text-anchor="middle" textLength="14.04" lengthAdjust="spacingAndGlyphs">0.0</text>
<line x1="521.90" y1="405.70" x2="521.90" y2="409.00" stroke="#383838" stroke-width="1.1"/>
<text x="521.90" y="422.00" font-size="10.91" text-anchor="middle" textLength="14.04" lengthAdjust="spacingAndGlyphs">0.5</text>
<line x1="554.40" y1="405.70" x2="554.40" y2="409.00" stroke="#383838" stroke-width="1.1"/>
<text x="554.40" y="422.00" font-size="10.91" text-anchor="middle" textLength="14.04" lengthAdjust="spacingAndGlyphs">1.0</text>
<line x1="586.90" y1="405.70" x2="586.90" y2="409.00" stroke="#383838" stroke-width="1.1"/>
<text x="586.90" y="422.00" font-size="10.91" text-anchor="middle" textLength="14.04" lengthAdjust="spacingAndGlyphs">1.5</text>
<line x1="619.40" y1="405.70" x2="619.40" y2="409.00" stroke="#383838" stroke-width="1.1"/>
<text x="619.40" y="422.00" font-size="10.91" text-anchor="middle" textLength="14.04" lengthAdjust="spacingAndGlyphs">2.0</text>
<text x="486.60" y="437.70" font-size="10.91" text-anchor="start" textLength="142.60" lengthAdjust="spacingAndGlyphs">Day 4 BAL <tspan font-weight="normal" stroke-width="0.1">γδ</tspan>T cells (<tspan font-weight="normal" stroke-width="0">×</tspan>10<tspan font-size="7.6" dy="-4.0">6</tspan><tspan dy="4.0"> l</tspan><tspan font-size="7.6" dy="-4.0">–1</tspan><tspan dy="4.0">)</tspan></text>
<text transform="translate(439.20,330.50) rotate(-90)" x="0" y="0" font-size="10.91" text-anchor="middle" textLength="118.00" lengthAdjust="spacingAndGlyphs">Day 4 BAL lymphocytes</text>
<text transform="translate(451.30,329.60) rotate(-90)" x="0" y="0" font-size="10.91" text-anchor="middle" textLength="41.80" lengthAdjust="spacingAndGlyphs">(<tspan font-weight="normal" stroke-width="0">×</tspan>10<tspan font-size="7.6" dy="-4.0">6</tspan><tspan dy="4.0"> l</tspan><tspan font-size="7.6" dy="-4.0">–1</tspan><tspan dy="4.0">)</tspan></text>
<text x="491.30" y="271.20" font-size="10.91" text-anchor="start" textLength="82.40" lengthAdjust="spacingAndGlyphs"><tspan font-style="italic">r</tspan>=0.70, <tspan font-style="italic">P</tspan>=0.0001</text>
<line x1="490.90" y1="390.30" x2="624.80" y2="321.80" stroke="#111" stroke-width="1.4"/>
<circle cx="490.9" cy="370.7" r="1.8" fill="#fff" stroke="#111" stroke-width="1.05"/>
<circle cx="498.6" cy="382.5" r="1.8" fill="#fff" stroke="#111" stroke-width="1.05"/>
<circle cx="495.8" cy="391.2" r="1.8" fill="#fff" stroke="#111" stroke-width="1.05"/>
<circle cx="503.2" cy="386.2" r="1.8" fill="#fff" stroke="#111" stroke-width="1.05"/>
<circle cx="504.3" cy="388.9" r="1.8" fill="#fff" stroke="#111" stroke-width="1.05"/>
<circle cx="507.4" cy="387.9" r="1.8" fill="#fff" stroke="#111" stroke-width="1.05"/>
<circle cx="504" cy="396.8" r="1.8" fill="#fff" stroke="#111" stroke-width="1.05"/>
<circle cx="518.7" cy="364.3" r="1.8" fill="#fff" stroke="#111" stroke-width="1.05"/>
<circle cx="523.8" cy="368.1" r="1.8" fill="#fff" stroke="#111" stroke-width="1.05"/>
<circle cx="529.1" cy="370.2" r="1.8" fill="#fff" stroke="#111" stroke-width="1.05"/>
<circle cx="535.9" cy="375.5" r="1.8" fill="#fff" stroke="#111" stroke-width="1.05"/>
<circle cx="528.6" cy="393.9" r="1.8" fill="#fff" stroke="#111" stroke-width="1.05"/>
<circle cx="537.4" cy="313.6" r="1.8" fill="#fff" stroke="#111" stroke-width="1.05"/>
<circle cx="624.8" cy="353.3" r="1.8" fill="#fff" stroke="#111" stroke-width="1.05"/>
<circle cx="519.6" cy="393.9" r="2.2" fill="#111"/>
<circle cx="526.7" cy="383.3" r="2.2" fill="#111"/>
<circle cx="533" cy="346.2" r="2.2" fill="#111"/>
<circle cx="547.4" cy="360.2" r="2.2" fill="#111"/>
<circle cx="546.4" cy="372.3" r="2.2" fill="#111"/>
<circle cx="562.7" cy="366.7" r="2.2" fill="#111"/>
<circle cx="596.5" cy="332.5" r="2.2" fill="#111"/>
<circle cx="614.9" cy="349.7" r="2.2" fill="#111"/>
<circle cx="618.9" cy="270" r="2.2" fill="#111"/>
<text x="120.20" y="472.30" font-size="16.63" text-anchor="start" textLength="10.26" lengthAdjust="spacingAndGlyphs">g</text>
<text x="170.80" y="471.70" font-size="10.91" text-anchor="start" textLength="36.60" lengthAdjust="spacingAndGlyphs">Healthy</text>
<text x="232.80" y="471.70" font-size="10.91" text-anchor="start" textLength="49.20" lengthAdjust="spacingAndGlyphs">Asthmatic</text>
<path d="M159.0,478.9H288.7V650.4H159.0Z" fill="none" stroke="#383838" stroke-width="1.4"/>
<line x1="156.40" y1="650.40" x2="159.00" y2="650.40" stroke="#383838" stroke-width="1.1"/>
<text x="152.50" y="654.40" font-size="10.91" text-anchor="end" textLength="5.62" lengthAdjust="spacingAndGlyphs">0</text>
<line x1="156.40" y1="607.52" x2="159.00" y2="607.52" stroke="#383838" stroke-width="1.1"/>
<text x="152.50" y="611.52" font-size="10.91" text-anchor="end" textLength="5.62" lengthAdjust="spacingAndGlyphs">5</text>
<line x1="156.40" y1="564.65" x2="159.00" y2="564.65" stroke="#383838" stroke-width="1.1"/>
<text x="152.50" y="568.65" font-size="10.91" text-anchor="end" textLength="11.23" lengthAdjust="spacingAndGlyphs">10</text>
<line x1="156.40" y1="521.77" x2="159.00" y2="521.77" stroke="#383838" stroke-width="1.1"/>
<text x="152.50" y="525.77" font-size="10.91" text-anchor="end" textLength="11.23" lengthAdjust="spacingAndGlyphs">15</text>
<line x1="156.40" y1="478.90" x2="159.00" y2="478.90" stroke="#383838" stroke-width="1.1"/>
<text x="152.50" y="482.90" font-size="10.91" text-anchor="end" textLength="11.23" lengthAdjust="spacingAndGlyphs">20</text>
<line x1="166.60" y1="650.40" x2="166.60" y2="653.70" stroke="#383838" stroke-width="1.1"/>
<line x1="182.30" y1="650.40" x2="182.30" y2="653.70" stroke="#383838" stroke-width="1.1"/>
<line x1="197.50" y1="650.40" x2="197.50" y2="653.70" stroke="#383838" stroke-width="1.1"/>
<line x1="213.30" y1="650.40" x2="213.30" y2="653.70" stroke="#383838" stroke-width="1.1"/>
<line x1="234.00" y1="650.40" x2="234.00" y2="653.70" stroke="#383838" stroke-width="1.1"/>
<line x1="249.70" y1="650.40" x2="249.70" y2="653.70" stroke="#383838" stroke-width="1.1"/>
<line x1="265.30" y1="650.40" x2="265.30" y2="653.70" stroke="#383838" stroke-width="1.1"/>
<line x1="280.80" y1="650.40" x2="280.80" y2="653.70" stroke="#383838" stroke-width="1.1"/>
<line x1="166.60" y1="524.20" x2="166.60" y2="574.90" stroke="#1c1c1c" stroke-width="1.1"/>
<line x1="166.60" y1="626.10" x2="166.60" y2="640.90" stroke="#1c1c1c" stroke-width="1.1"/>
<line x1="163.60" y1="524.20" x2="169.60" y2="524.20" stroke="#1c1c1c" stroke-width="1.1"/>
<line x1="163.60" y1="640.90" x2="169.60" y2="640.90" stroke="#1c1c1c" stroke-width="1.1"/>
<rect x="161.5" y="574.9" width="10.5" height="51.2" fill="#fff" stroke="#1c1c1c" stroke-width="1.1"/>
<line x1="161.50" y1="610.30" x2="172.00" y2="610.30" stroke="#1c1c1c" stroke-width="1.1"/>
<line x1="182.30" y1="539.80" x2="182.30" y2="575.60" stroke="#1c1c1c" stroke-width="1.1"/>
<line x1="182.30" y1="627.30" x2="182.30" y2="646.60" stroke="#1c1c1c" stroke-width="1.1"/>
<line x1="179.30" y1="539.80" x2="185.30" y2="539.80" stroke="#1c1c1c" stroke-width="1.1"/>
<line x1="179.30" y1="646.60" x2="185.30" y2="646.60" stroke="#1c1c1c" stroke-width="1.1"/>
<rect x="176.9" y="575.6" width="10.8" height="51.7" fill="#fff" stroke="#1c1c1c" stroke-width="1.1"/>
<line x1="176.90" y1="620.40" x2="187.70" y2="620.40" stroke="#1c1c1c" stroke-width="1.1"/>
<line x1="176.90" y1="621.80" x2="187.70" y2="621.80" stroke="#1c1c1c" stroke-width="1.1"/>
<line x1="197.50" y1="549.60" x2="197.50" y2="600.50" stroke="#1c1c1c" stroke-width="1.1"/>
<line x1="197.50" y1="618.40" x2="197.50" y2="634.60" stroke="#1c1c1c" stroke-width="1.1"/>
<line x1="194.50" y1="549.60" x2="200.50" y2="549.60" stroke="#1c1c1c" stroke-width="1.1"/>
<line x1="194.50" y1="634.60" x2="200.50" y2="634.60" stroke="#1c1c1c" stroke-width="1.1"/>
<rect x="192.5" y="600.5" width="10.5" height="17.9" fill="#fff" stroke="#1c1c1c" stroke-width="1.1"/>
<line x1="192.50" y1="606.10" x2="203.00" y2="606.10" stroke="#1c1c1c" stroke-width="1.1"/>
<line x1="213.30" y1="544.30" x2="213.30" y2="584.60" stroke="#1c1c1c" stroke-width="1.1"/>
<line x1="213.30" y1="627.50" x2="213.30" y2="638.10" stroke="#1c1c1c" stroke-width="1.1"/>
<line x1="210.30" y1="544.30" x2="216.30" y2="544.30" stroke="#1c1c1c" stroke-width="1.1"/>
<line x1="210.30" y1="638.10" x2="216.30" y2="638.10" stroke="#1c1c1c" stroke-width="1.1"/>
<rect x="208.6" y="584.6" width="9.8" height="42.9" fill="#fff" stroke="#1c1c1c" stroke-width="1.1"/>
<line x1="208.60" y1="605.50" x2="218.40" y2="605.50" stroke="#1c1c1c" stroke-width="1.1"/>
<line x1="234.00" y1="501.90" x2="234.00" y2="539.20" stroke="#1c1c1c" stroke-width="1.1"/>
<line x1="234.00" y1="604.60" x2="234.00" y2="610.60" stroke="#1c1c1c" stroke-width="1.1"/>
<line x1="231.00" y1="501.90" x2="237.00" y2="501.90" stroke="#1c1c1c" stroke-width="1.1"/>
<line x1="231.00" y1="610.60" x2="237.00" y2="610.60" stroke="#1c1c1c" stroke-width="1.1"/>
<rect x="228.7" y="539.2" width="10.7" height="65.4" fill="#dcdcdc" stroke="#1c1c1c" stroke-width="1.1"/>
<line x1="228.70" y1="598.60" x2="239.40" y2="598.60" stroke="#1c1c1c" stroke-width="1.1"/>
<line x1="249.70" y1="573.70" x2="249.70" y2="585.30" stroke="#1c1c1c" stroke-width="1.1"/>
<line x1="249.70" y1="622.10" x2="249.70" y2="624.70" stroke="#1c1c1c" stroke-width="1.1"/>
<line x1="246.70" y1="573.70" x2="252.70" y2="573.70" stroke="#1c1c1c" stroke-width="1.1"/>
<line x1="246.70" y1="624.70" x2="252.70" y2="624.70" stroke="#1c1c1c" stroke-width="1.1"/>
<rect x="244.2" y="585.3" width="10.9" height="36.8" fill="#dcdcdc" stroke="#1c1c1c" stroke-width="1.1"/>
<line x1="244.20" y1="613.10" x2="255.10" y2="613.10" stroke="#1c1c1c" stroke-width="1.1"/>
<line x1="265.30" y1="591.30" x2="265.30" y2="594.60" stroke="#1c1c1c" stroke-width="1.1"/>
<line x1="265.30" y1="619.10" x2="265.30" y2="630.40" stroke="#1c1c1c" stroke-width="1.1"/>
<line x1="262.30" y1="591.30" x2="268.30" y2="591.30" stroke="#1c1c1c" stroke-width="1.1"/>
<line x1="262.30" y1="630.40" x2="268.30" y2="630.40" stroke="#1c1c1c" stroke-width="1.1"/>
<rect x="259.4" y="594.6" width="11.1" height="24.5" fill="#dcdcdc" stroke="#1c1c1c" stroke-width="1.1"/>
<line x1="259.40" y1="602.20" x2="270.50" y2="602.20" stroke="#1c1c1c" stroke-width="1.1"/>
<line x1="280.80" y1="584.40" x2="280.80" y2="588.40" stroke="#1c1c1c" stroke-width="1.1"/>
<line x1="280.80" y1="619.50" x2="280.80" y2="630.40" stroke="#1c1c1c" stroke-width="1.1"/>
<line x1="277.80" y1="584.40" x2="283.80" y2="584.40" stroke="#1c1c1c" stroke-width="1.1"/>
<line x1="277.80" y1="630.40" x2="283.80" y2="630.40" stroke="#1c1c1c" stroke-width="1.1"/>
<rect x="275.6" y="588.4" width="10.6" height="31.1" fill="#dcdcdc" stroke="#1c1c1c" stroke-width="1.1"/>
<line x1="275.60" y1="600.80" x2="286.20" y2="600.80" stroke="#1c1c1c" stroke-width="1.1"/>
<text transform="translate(131.50,564.40) rotate(-90)" x="0" y="0" font-size="10.91" text-anchor="middle" textLength="120.30" lengthAdjust="spacingAndGlyphs">Blood <tspan font-weight="normal" stroke-width="0.1">γδ</tspan>T cells (<tspan font-weight="normal" stroke-width="0">×</tspan>10<tspan font-size="7.6" dy="-4.0">7</tspan><tspan dy="4.0"> l</tspan><tspan font-size="7.6" dy="-4.0">–1</tspan><tspan dy="4.0">)</tspan></text>
<text transform="translate(167.20,663.00) rotate(-45)" x="0" y="0" font-size="10.91" text-anchor="end" textLength="41.54" lengthAdjust="spacingAndGlyphs">Baseline</text>
<text transform="translate(185.10,663.66) rotate(-45)" x="0" y="0" font-size="10.91" text-anchor="end" textLength="26.95" lengthAdjust="spacingAndGlyphs">Day 4</text>
<text transform="translate(199.60,663.45) rotate(-45)" x="0" y="0" font-size="10.91" text-anchor="end" textLength="26.95" lengthAdjust="spacingAndGlyphs">Day 7</text>
<text transform="translate(216.20,663.69) rotate(-45)" x="0" y="0" font-size="10.91" text-anchor="end" textLength="40.42" lengthAdjust="spacingAndGlyphs">6 Weeks</text>
<text transform="translate(234.60,663.00) rotate(-45)" x="0" y="0" font-size="10.91" text-anchor="end" textLength="41.54" lengthAdjust="spacingAndGlyphs">Baseline</text>
<text transform="translate(253.10,663.84) rotate(-45)" x="0" y="0" font-size="10.91" text-anchor="end" textLength="26.95" lengthAdjust="spacingAndGlyphs">Day 4</text>
<text transform="translate(267.50,663.48) rotate(-45)" x="0" y="0" font-size="10.91" text-anchor="end" textLength="26.95" lengthAdjust="spacingAndGlyphs">Day 7</text>
<text transform="translate(282.20,663.24) rotate(-45)" x="0" y="0" font-size="10.91" text-anchor="end" textLength="40.42" lengthAdjust="spacingAndGlyphs">6 Weeks</text>
<text x="313.70" y="475.00" font-size="16.63" text-anchor="start" textLength="10.26" lengthAdjust="spacingAndGlyphs">h</text>
<path d="M373.8,486.3H524.0V636.0H373.8Z" fill="none" stroke="#383838" stroke-width="1.4"/>
<line x1="371.20" y1="486.10" x2="373.80" y2="486.10" stroke="#383838" stroke-width="1.1"/>
<text x="366.40" y="490.10" font-size="10.91" text-anchor="end" textLength="16.85" lengthAdjust="spacingAndGlyphs">125</text>
<line x1="371.20" y1="502.50" x2="373.80" y2="502.50" stroke="#383838" stroke-width="1.1"/>
<text x="366.40" y="506.50" font-size="10.91" text-anchor="end" textLength="16.85" lengthAdjust="spacingAndGlyphs">100</text>
<line x1="371.20" y1="518.90" x2="373.80" y2="518.90" stroke="#383838" stroke-width="1.1"/>
<text x="366.40" y="522.90" font-size="10.91" text-anchor="end" textLength="11.23" lengthAdjust="spacingAndGlyphs">75</text>
<line x1="371.20" y1="535.30" x2="373.80" y2="535.30" stroke="#383838" stroke-width="1.1"/>
<text x="366.40" y="539.30" font-size="10.91" text-anchor="end" textLength="11.23" lengthAdjust="spacingAndGlyphs">50</text>
<line x1="371.20" y1="551.70" x2="373.80" y2="551.70" stroke="#383838" stroke-width="1.1"/>
<text x="366.40" y="555.70" font-size="10.91" text-anchor="end" textLength="11.23" lengthAdjust="spacingAndGlyphs">25</text>
<line x1="371.20" y1="568.10" x2="373.80" y2="568.10" stroke="#383838" stroke-width="1.1"/>
<text x="366.40" y="572.10" font-size="10.91" text-anchor="end" textLength="5.62" lengthAdjust="spacingAndGlyphs">0</text>
<line x1="371.20" y1="584.50" x2="373.80" y2="584.50" stroke="#383838" stroke-width="1.1"/>
<text x="366.40" y="588.50" font-size="10.91" text-anchor="end" textLength="16.85" lengthAdjust="spacingAndGlyphs">–25</text>
<line x1="371.20" y1="600.90" x2="373.80" y2="600.90" stroke="#383838" stroke-width="1.1"/>
<text x="366.40" y="604.90" font-size="10.91" text-anchor="end" textLength="16.85" lengthAdjust="spacingAndGlyphs">–50</text>
<line x1="371.20" y1="617.30" x2="373.80" y2="617.30" stroke="#383838" stroke-width="1.1"/>
<text x="366.40" y="621.30" font-size="10.91" text-anchor="end" textLength="16.85" lengthAdjust="spacingAndGlyphs">–75</text>
<line x1="371.20" y1="633.70" x2="373.80" y2="633.70" stroke="#383838" stroke-width="1.1"/>
<text x="366.40" y="637.70" font-size="10.91" text-anchor="end" textLength="22.47" lengthAdjust="spacingAndGlyphs">–100</text>
<line x1="376.80" y1="636.00" x2="376.80" y2="639.30" stroke="#383838" stroke-width="1.1"/>
<text x="376.80" y="652.60" font-size="10.91" text-anchor="middle" textLength="16.85" lengthAdjust="spacingAndGlyphs">–20</text>
<line x1="405.70" y1="636.00" x2="405.70" y2="639.30" stroke="#383838" stroke-width="1.1"/>
<text x="405.70" y="652.60" font-size="10.91" text-anchor="middle" textLength="16.85" lengthAdjust="spacingAndGlyphs">–15</text>
<line x1="434.60" y1="636.00" x2="434.60" y2="639.30" stroke="#383838" stroke-width="1.1"/>
<text x="434.60" y="652.60" font-size="10.91" text-anchor="middle" textLength="16.85" lengthAdjust="spacingAndGlyphs">–10</text>
<line x1="463.50" y1="636.00" x2="463.50" y2="639.30" stroke="#383838" stroke-width="1.1"/>
<text x="463.50" y="652.60" font-size="10.91" text-anchor="middle" textLength="11.23" lengthAdjust="spacingAndGlyphs">–5</text>
<line x1="492.40" y1="636.00" x2="492.40" y2="639.30" stroke="#383838" stroke-width="1.1"/>
<text x="492.40" y="652.60" font-size="10.91" text-anchor="middle" textLength="5.62" lengthAdjust="spacingAndGlyphs">0</text>
<line x1="521.30" y1="636.00" x2="521.30" y2="639.30" stroke="#383838" stroke-width="1.1"/>
<text x="521.30" y="652.60" font-size="10.91" text-anchor="middle" textLength="5.62" lengthAdjust="spacingAndGlyphs">5</text>
<text x="387.70" y="666.60" font-size="10.91" text-anchor="start" textLength="121.50" lengthAdjust="spacingAndGlyphs">Maximum fall in FEV<tspan font-size="8.0" dy="3.4">1</tspan><tspan dy="-3.4"> (L)</tspan></text>
<text transform="translate(324.10,559.50) rotate(-90)" x="0" y="0" font-size="10.91" text-anchor="middle" textLength="127.20" lengthAdjust="spacingAndGlyphs">Change in blood <tspan font-weight="normal" stroke-width="0.1">γδ</tspan>T cells</text>
<text transform="translate(337.60,560.20) rotate(-90)" x="0" y="0" font-size="10.91" text-anchor="middle" textLength="89.30" lengthAdjust="spacingAndGlyphs">baseline to d4 (%)</text>
<text x="383.00" y="502.40" font-size="10.91" text-anchor="start" textLength="90.60" lengthAdjust="spacingAndGlyphs"><tspan font-style="italic">r</tspan>= 0.5035, <tspan font-style="italic">P</tspan>=0.028</text>
<line x1="395.20" y1="600.10" x2="515.90" y2="546.00" stroke="#111" stroke-width="1.4"/>
<circle cx="395.2" cy="582" r="1.8" fill="#fff" stroke="#111" stroke-width="1.05"/>
<circle cx="434.4" cy="554.9" r="1.8" fill="#fff" stroke="#111" stroke-width="1.05"/>
<circle cx="455.4" cy="546" r="1.8" fill="#fff" stroke="#111" stroke-width="1.05"/>
<circle cx="457" cy="540.3" r="1.8" fill="#fff" stroke="#111" stroke-width="1.05"/>
<circle cx="484.5" cy="492.5" r="1.8" fill="#fff" stroke="#111" stroke-width="1.05"/>
<circle cx="464.4" cy="519.5" r="1.8" fill="#fff" stroke="#111" stroke-width="1.05"/>
<circle cx="515.9" cy="546" r="1.8" fill="#fff" stroke="#111" stroke-width="1.05"/>
<circle cx="479.8" cy="572" r="1.8" fill="#fff" stroke="#111" stroke-width="1.05"/>
<circle cx="479.8" cy="576.3" r="1.8" fill="#fff" stroke="#111" stroke-width="1.05"/>
<circle cx="506.5" cy="570.4" r="1.8" fill="#fff" stroke="#111" stroke-width="1.05"/>
<circle cx="475.8" cy="592" r="1.8" fill="#fff" stroke="#111" stroke-width="1.05"/>
<circle cx="454.4" cy="612.6" r="1.8" fill="#fff" stroke="#111" stroke-width="1.05"/>
<circle cx="447.4" cy="628.7" r="1.8" fill="#fff" stroke="#111" stroke-width="1.05"/>
<circle cx="467" cy="565.3" r="2.2" fill="#111"/>
<circle cx="461.7" cy="570" r="2.2" fill="#111"/>
<circle cx="459.8" cy="586.7" r="2.2" fill="#111"/>
<circle cx="416.9" cy="594.6" r="2.2" fill="#111"/>
<circle cx="419.5" cy="600.1" r="2.2" fill="#111"/>
<circle cx="401.9" cy="609.2" r="2.2" fill="#111"/>
</svg>
</body></html>
